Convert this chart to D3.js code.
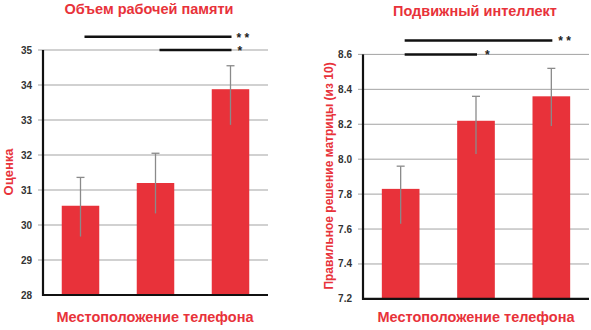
<!DOCTYPE html>
<html>
<head>
<meta charset="utf-8">
<script src="https://cdn.jsdelivr.net/npm/d3@7"></script>
<style>
  html, body { margin: 0; padding: 0; background: #fff; }
  svg { display: block; font-family: "Liberation Sans", Arial, sans-serif; }
</style>
</head>
<body>
<svg id="chart" width="591" height="330"></svg>
<script>
// Phone location groups (three conditions, unlabeled on the axis)
const categories = ["A", "B", "C"];

// Working memory capacity
const memoryMeans = [30.55, 31.2, 33.88];
const memoryUpper = [31.36, 32.05, 34.55];
const memoryLower = [29.67, 30.33, 32.86];
const memoryTicks = [28, 29, 30, 31, 32, 33, 34, 35];

// Fluid intelligence (correct matrix solutions out of 10)
const iqMeans = [7.83, 8.22, 8.36];
const iqUpper = [7.96, 8.36, 8.52];
const iqLower = [7.63, 8.03, 8.19];
const iqTicks = [7.2, 7.4, 7.6, 7.8, 8.0, 8.2, 8.4, 8.6];

const RED = "#e8323a";
const svg = d3.select("#chart");

function panel(opts) {
  const g = svg.append("g");
  const x = d3.scaleBand().domain(categories).range([opts.x0, opts.x1]).paddingInner(0.5).paddingOuter(0.25);
  const y = d3.scaleLinear().domain(opts.domain).range([opts.y1, opts.y0]);

  // gridlines with short outside ticks
  g.append("g").selectAll("line").data(opts.ticks.slice(1)).join("line")
    .attr("x1", opts.x0 - 5).attr("x2", opts.x1)
    .attr("y1", d => y(d)).attr("y2", d => y(d))
    .attr("stroke", "#a3a3a3").attr("stroke-width", 1);

  // tick labels
  g.append("g").selectAll("text").data(opts.ticks).join("text")
    .attr("x", opts.x0 - 11).attr("y", d => y(d)).attr("dy", "0.35em")
    .attr("text-anchor", "end").attr("font-size", 10).attr("font-weight", "bold")
    .attr("fill", "#333").text(d => opts.fmt(d));

  // bars
  g.append("g").selectAll("rect").data(opts.means).join("rect")
    .attr("x", (d, i) => x(categories[i])).attr("width", x.bandwidth())
    .attr("y", d => y(d)).attr("height", d => y(opts.domain[0]) - y(d))
    .attr("fill", RED);

  // error bars (cap on top only)
  const eb = g.append("g").attr("stroke", "#8a8a8a").attr("stroke-width", 1.3);
  categories.forEach((c, i) => {
    const cx = x(c) + x.bandwidth() / 2;
    eb.append("line").attr("x1", cx).attr("x2", cx)
      .attr("y1", y(opts.lower[i])).attr("y2", y(opts.upper[i]));
    eb.append("line").attr("x1", cx - 4).attr("x2", cx + 4)
      .attr("y1", y(opts.upper[i])).attr("y2", y(opts.upper[i]));
  });

  // axes lines
  g.append("line").attr("x1", opts.x0).attr("x2", opts.x0)
    .attr("y1", y(opts.domain[1])).attr("y2", y(opts.domain[0]) + 1)
    .attr("stroke", "#111").attr("stroke-width", 2.2);
  g.append("line").attr("x1", opts.x0 - 1).attr("x2", opts.x1)
    .attr("y1", y(opts.domain[0])).attr("y2", y(opts.domain[0]))
    .attr("stroke", "#111").attr("stroke-width", 2.2);

  // significance brackets
  opts.sig.forEach(s => {
    const xa = x(categories[s.from]) + x.bandwidth() / 2 + 4;
    const xb = x(categories[s.to]) + x.bandwidth() / 2 + 1;
    g.append("line").attr("x1", xa).attr("x2", xb)
      .attr("y1", y(s.level)).attr("y2", y(s.level))
      .attr("stroke", "#111").attr("stroke-width", 2.5);
    g.append("text").attr("x", xb + s.gap).attr("y", y(s.level) + 5)
      .attr("font-size", 12).attr("font-weight", "bold").attr("fill", "#222")
      .text(s.label);
  });

  // titles
  g.append("text").attr("x", opts.titleX).attr("y", opts.titleY)
    .attr("text-anchor", "middle").attr("font-size", 14.5).attr("font-weight", "bold")
    .attr("fill", RED).text(opts.title);
  g.append("text").attr("x", opts.titleX + opts.xLabelShift).attr("y", 322)
    .attr("text-anchor", "middle").attr("font-size", 14.5).attr("font-weight", "bold")
    .attr("fill", RED).text("Местоположение телефона");
  g.append("text")
    .attr("transform", `translate(${opts.yLabelX},${opts.yLabelY}) rotate(-90)`)
    .attr("text-anchor", "middle").attr("font-size", opts.yLabelSize).attr("font-weight", "bold")
    .attr("fill", RED).text(opts.yLabel);
}

panel({
  x0: 43, x1: 268, y0: 50, y1: 295,
  domain: [28, 35], ticks: memoryTicks, fmt: d3.format("d"),
  means: memoryMeans, upper: memoryUpper, lower: memoryLower,
  sig: [{from: 0, to: 2, level: 35.38, label: "* *", gap: 5},
        {from: 1, to: 2, level: 35.0, label: "*", gap: 6}],
  title: "Объем рабочей памяти", titleX: 149, titleY: 14, xLabelShift: 6,
  yLabel: "Оценка", yLabelX: 13, yLabelY: 172, yLabelSize: 13
});

panel({
  x0: 363, x1: 589, y0: 54.4, y1: 298.9,
  domain: [7.2, 8.6], ticks: iqTicks, fmt: d3.format(".1f"),
  means: iqMeans, upper: iqUpper, lower: iqLower,
  sig: [{from: 0, to: 2, level: 8.68, label: "* *", gap: 6},
        {from: 0, to: 1, level: 8.6, label: "*", gap: 8}],
  title: "Подвижный интеллект", titleX: 475, titleY: 16, xLabelShift: 1,
  yLabel: "Правильное решение матрицы (из 10)", yLabelX: 333, yLabelY: 176, yLabelSize: 12
});
</script>
</body>
</html>
